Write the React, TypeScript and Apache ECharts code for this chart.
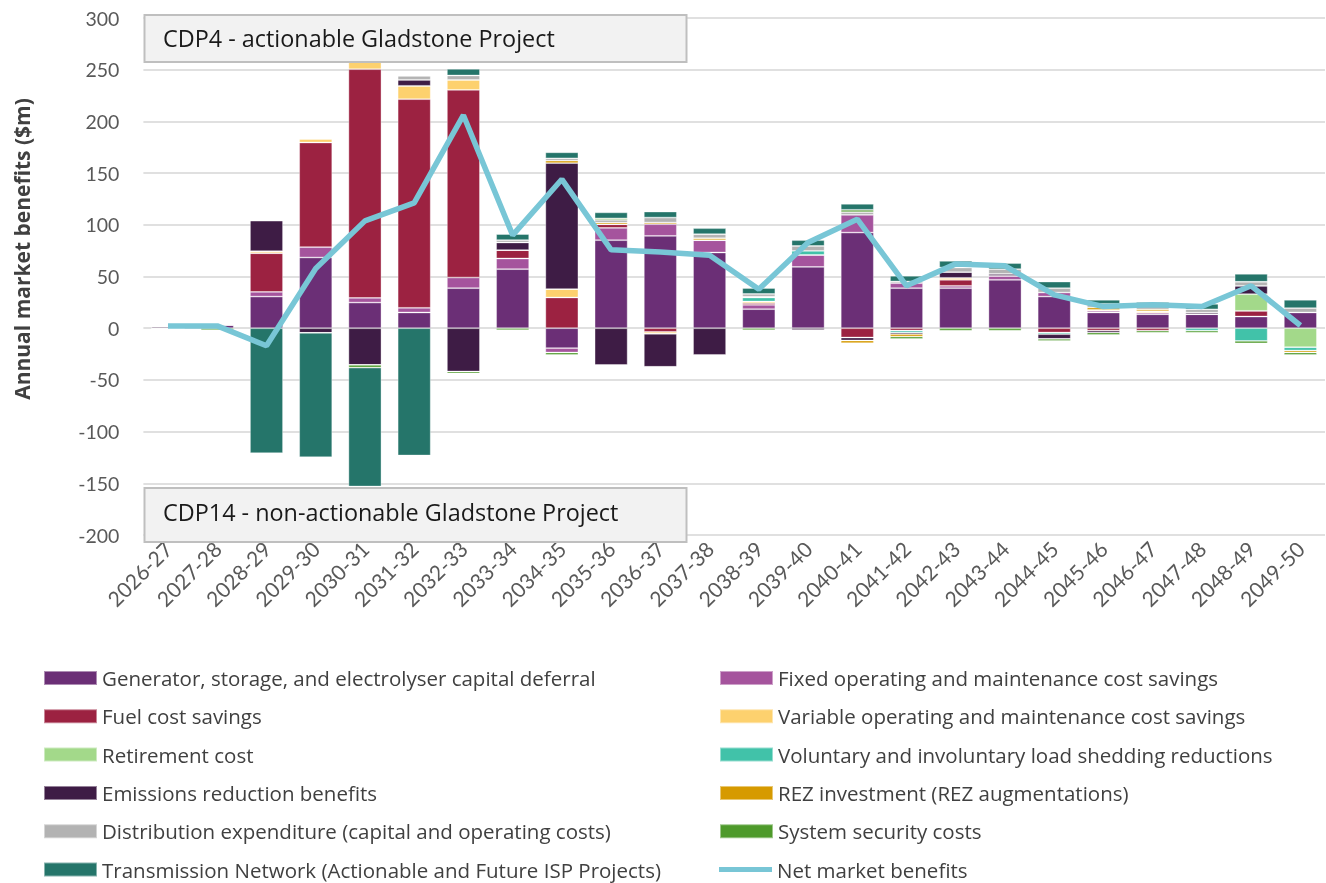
import React, { useEffect, useRef } from "react";
import * as echarts from "echarts";

const categories = [
  "2026-27", "2027-28", "2028-29", "2029-30", "2030-31", "2031-32", "2032-33", "2033-34",
  "2034-35", "2035-36", "2036-37", "2037-38", "2038-39", "2039-40", "2040-41", "2041-42",
  "2042-43", "2043-44", "2044-45", "2045-46", "2046-47", "2047-48", "2048-49", "2049-50",
];

const genCapital = [0, 3, 30.6, 68.4, 24.8, 15.2, 38.7, 57.1, -19.3, 85.1, 89.3, 73.2, 18.4, 59.3, 92.5, 38.7, 38.7, 46.8, 30.6, 15.2, 13.5, 13.5, 11.3, 15.2];
const fixedOM = [0, 0, 4.5, 10.0, 4.5, 4.5, 10.3, 10.3, -4.2, 11.9, 11.3, 11.9, 4.2, 11.6, 17.1, 4.8, 2.3, 3.9, 3.9, 1.6, 1.6, 0, 0, 0];
const fuelCost = [0, 0, 37.4, 101.2, 221.2, 201.8, 181.5, 8.1, 29.7, 3.5, -3.5, 0, 1.6, 0, -9.0, -2.3, 5.8, 0, -4.2, -2.3, -2.3, 0, 5.5, 0];
const variableOM = [0, 1, 1.9, 3.5, 7, 12.9, 9.7, 0, 8.1, 0, -1.9, 0, 1.6, 0, 0, 0, 1.9, 0, 0, 1, 1.3, 0, 0, 0];
const retirement = [0, 0, 0, 0, 0, 0, 0, 0, 0, 0, 0, 0, 0, 0, 0, 0, 0, 0, 0, 0, 0, 0, 16.1, -18.4];
const loadShedding = [0, 0, 0, 0, 0, 0, 0, 0, 0, 0, 0, 0, 3.9, 3.9, 0, -1.9, 0, 0, -1.6, 0, 0, -2.3, -12.3, -3.2];
const emissions = [1.5, 0, 29.7, -4.5, -35.5, 5.8, -41.9, 7.4, 121.9, -35.5, -31.9, -25.8, 0.8, -1.9, -2.9, -1.6, 5.5, 1.9, -4.5, -1.9, 0, 1.6, 8.1, 0];
const rezInvestment = [0, 0, 0, 0, 0, 0, 0, 0, 2.3, 1.6, 1.6, 1.9, 0, 0, -2.6, -2.3, 0, 0, 0, 2.3, 1.9, 0, 0, -1.9];
const distribution = [0, 0, 0, 0, 0, 3.9, 4.2, 2.3, 2.3, 2.6, 4.8, 3.9, 2.6, 4.8, 2.6, 1.7, 4.5, 4.5, 4.2, 3.5, 3.5, 3.2, 3.9, 4.2];
const systemSecurity = [0, -2, 0, 0, -2.6, 0, -1.9, -1.9, -2.3, 1.5, 0, 0, -1.9, 0, 2.3, -2.3, -2.3, -2.3, -1.9, -2.3, -1.9, -1.9, -2.3, -2.3];
const transmission = [0, 0, -120.9, -120.3, -115, -123.1, 6.4, 5.8, 5.8, 5.8, 5.8, 5.8, 5.8, 5.5, 5.8, 5.5, 6.4, 5.8, 6.4, 3.9, 3.5, 5.2, 7.7, 8.1];
const netBenefits = [2.2, 2.2, -17, 57.7, 103.8, 121.2, 206, 90, 144, 75.8, 73.8, 70.6, 37.7, 82.9, 105.4, 41, 62.2, 60.3, 32.2, 20.9, 22.6, 20.9, 41, 2.6];

const yTicks = { min: -200, max: 300, interval: 50 };

const barSeriesDefs = [
  { name: "Generator, storage, and electrolyser capital deferral", data: genCapital, color: "#6B2F76" },
  { name: "Fixed operating and maintenance cost savings", data: fixedOM, color: "#A5549D" },
  { name: "Fuel cost savings", data: fuelCost, color: "#9C2241" },
  { name: "Variable operating and maintenance cost savings", data: variableOM, color: "#FDD16E" },
  { name: "Retirement cost", data: retirement, color: "#A3D98A" },
  { name: "Voluntary and involuntary load shedding reductions", data: loadShedding, color: "#41C2A9" },
  { name: "Emissions reduction benefits", data: emissions, color: "#3E1C45" },
  { name: "REZ investment (REZ augmentations)", data: rezInvestment, color: "#D69A00" },
  { name: "Distribution expenditure (capital and operating costs)", data: distribution, color: "#B3B3B3" },
  { name: "System security costs", data: systemSecurity, color: "#4E9A2B" },
  { name: "Transmission Network (Actionable and Future ISP Projects)", data: transmission, color: "#25756A" },
];
const netName = "Net market benefits";
const legendOrder = barSeriesDefs.map((s) => s.name).concat([netName]);

const FONT = "Lato, 'Open Sans', sans-serif";
const WIDE = "'Open Sans', Lato, sans-serif";

export default function App() {
  const ref = useRef<HTMLDivElement>(null);
  useEffect(() => {
    if (!ref.current) return;
    const chart = echarts.init(ref.current, null, { renderer: "svg" });
    const legends = legendOrder.map((name, i) => {
      const row = Math.floor(i / 2);
      const col = i % 2;
      return {
        left: col === 0 ? 43 : 719,
        top: 678 + row * 38.3 - 10.5,
        padding: 0,
        itemWidth: 53,
        itemHeight: 14,
        icon: "rect",
        textStyle: { fontSize: 20.5, color: "#404040", fontFamily: WIDE },
        selectedMode: false,
        data: [name === netName ? { name, icon: "path://M0,0 L53,0 L53,5 L0,5 Z" } : { name }],
      };
    });
    chart.setOption({
      animation: false,
      textStyle: { fontFamily: FONT },
      grid: { left: 143.4, right: 1, top: 18, bottom: 348, containLabel: false },
      xAxis: {
        type: "category",
        data: categories,
        axisLine: { show: false },
        axisTick: { show: false },
        axisLabel: { rotate: 45, fontSize: 21, color: "#595959", margin: 10, interval: 0, fontFamily: FONT },
      },
      yAxis: {
        type: "value",
        min: yTicks.min,
        max: yTicks.max,
        interval: yTicks.interval,
        axisLine: { show: false },
        axisTick: { show: false },
        axisLabel: { fontSize: 19.5, color: "#595959", margin: 24, fontFamily: FONT },
        splitLine: { lineStyle: { color: "#e0e0e0", width: 2 } },
      },
      legend: legends,
      series: [
        ...barSeriesDefs.map((s) => ({
          name: s.name,
          type: "bar",
          stack: "total",
          barWidth: 33,
          data: s.data,
          itemStyle: { color: s.color, borderColor: "rgba(255,255,255,0.45)", borderWidth: 0.8 },
          emphasis: { disabled: true },
        })),
        {
          name: netName,
          type: "line",
          data: netBenefits,
          symbol: "none",
          z: 10,
          lineStyle: { color: "#78C6D6", width: 5.5 },
          itemStyle: { color: "#78C6D6" },
        },
      ],
      graphic: [
        {
          type: "text",
          rotation: Math.PI / 2,
          x: 22,
          y: 249,
          style: {
            text: "Annual market benefits ($m)",
            fontSize: 21,
            fontWeight: "bold",
            fill: "#404040",
            fontFamily: WIDE,
            align: "center",
            verticalAlign: "middle",
          },
          z: 100,
        },
        {
          type: "group",
          z: 100,
          children: [
            {
              type: "rect",
              shape: { x: 144.5, y: 15, width: 542, height: 47 },
              style: { fill: "#f2f2f2", stroke: "#bfbfbf", lineWidth: 2 },
              z: 100,
            },
            {
              type: "text",
              x: 163,
              y: 37.5,
              style: { text: "CDP4 - actionable Gladstone Project", fontSize: 23.4, fill: "#1a1a1a", fontFamily: WIDE, verticalAlign: "middle" },
              z: 101,
            },
            {
              type: "rect",
              shape: { x: 144.5, y: 488, width: 542, height: 54 },
              style: { fill: "#f2f2f2", stroke: "#bfbfbf", lineWidth: 2 },
              z: 100,
            },
            {
              type: "text",
              x: 163,
              y: 512,
              style: { text: "CDP14 - non-actionable Gladstone Project", fontSize: 23.4, fill: "#1a1a1a", fontFamily: WIDE, verticalAlign: "middle" },
              z: 101,
            },
          ],
        },
      ],
    });
    return () => chart.dispose();
  }, []);
  return <div ref={ref} style={{ position: "fixed", left: 0, top: 0, width: 1326, height: 883 }} />;
}
